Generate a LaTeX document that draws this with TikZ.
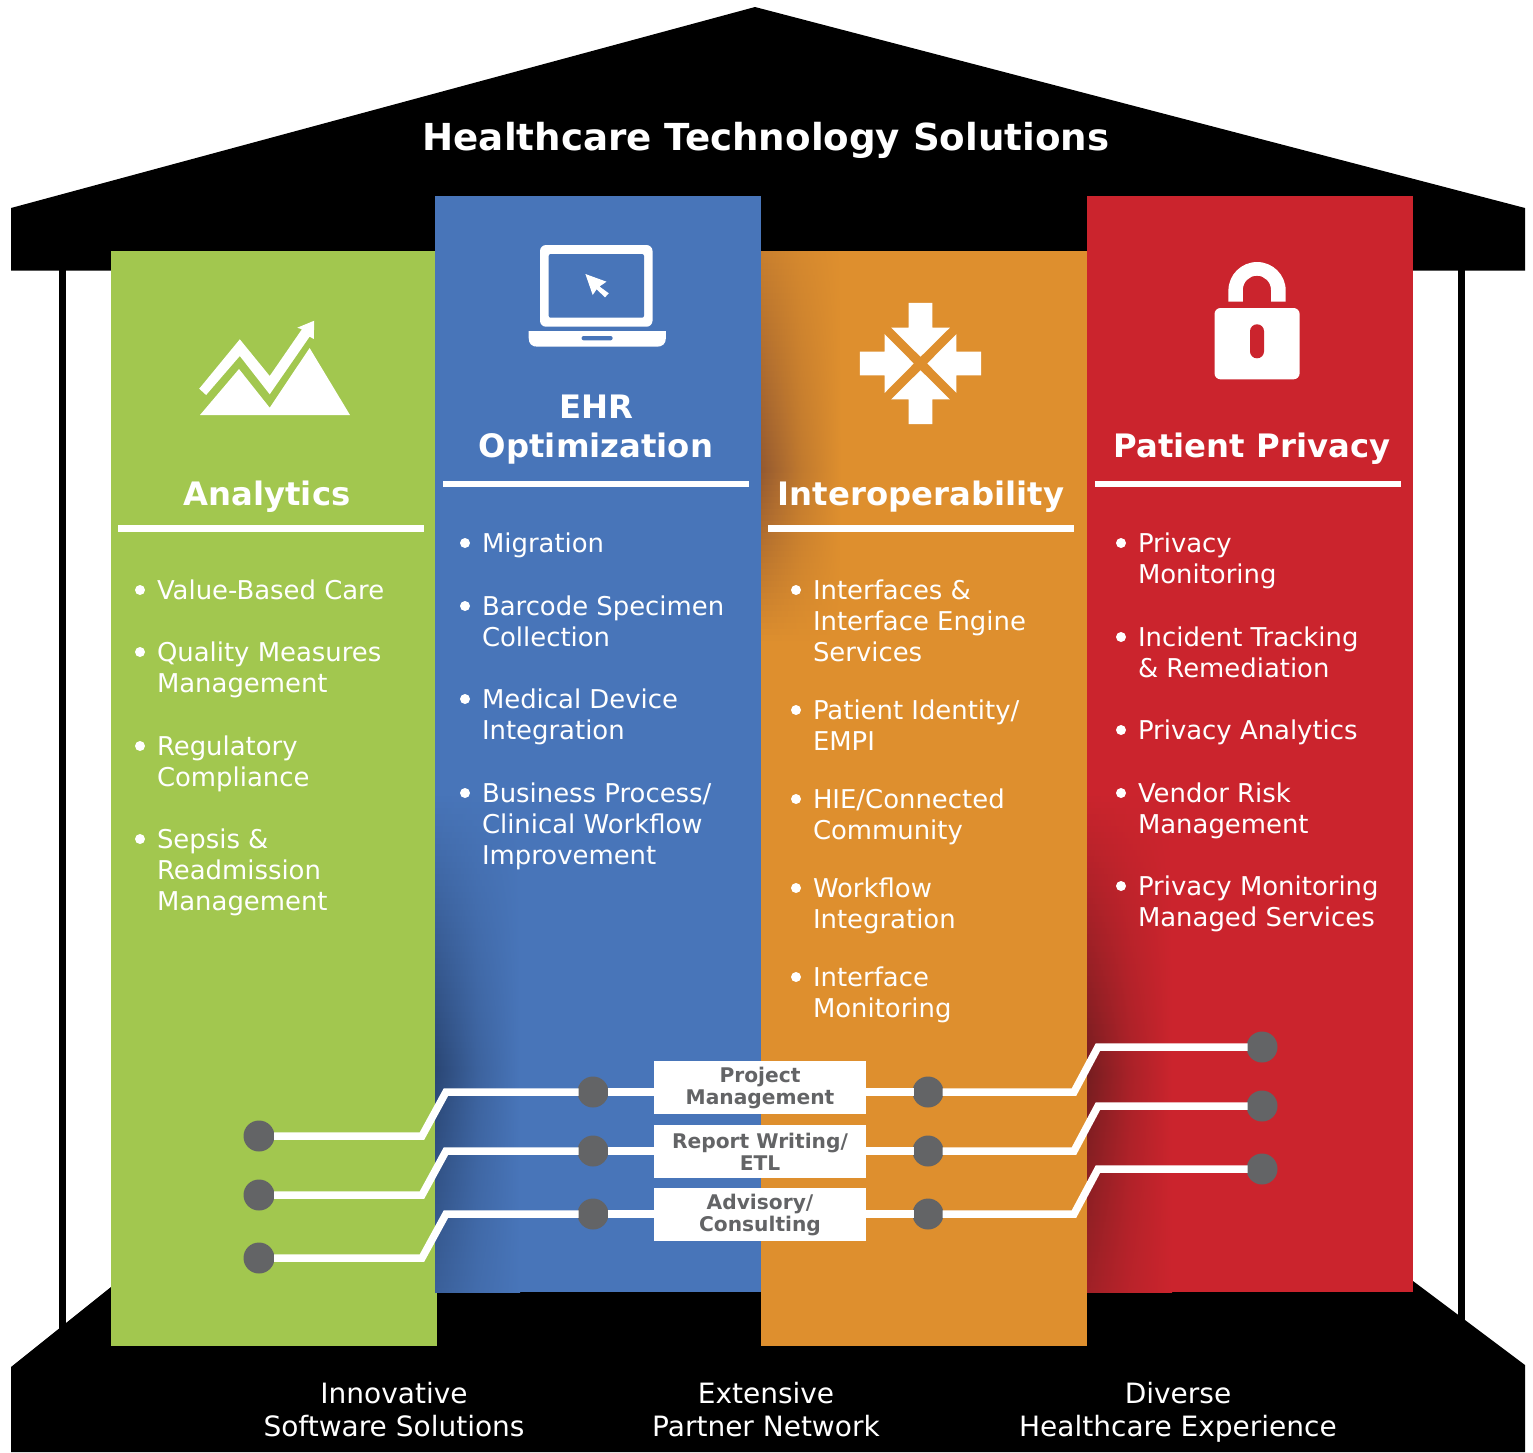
\documentclass[tikz,border=0pt]{standalone}
\usepackage{fontspec}
\setmainfont{DejaVu Sans}
\definecolor{cgreen}{HTML}{A2C74F}
\definecolor{cblue}{HTML}{4875B9}
\definecolor{corange}{HTML}{DE8F2E}
\definecolor{cred}{HTML}{CB242D}
\definecolor{cgray}{HTML}{636466}
\definecolor{dblue}{HTML}{2A4674}
\definecolor{dorange}{HTML}{94592F}
\definecolor{dred}{HTML}{751D20}
\tikzset{
  itemtext/.style={anchor=base west,inner sep=0pt,outer sep=0pt,text=white,align=left,font=\fontsize{25.9}{31.3}\selectfont},
  bullet/.style={circle,fill=white,inner sep=0pt,minimum size=10pt},
  coltitle/.style={anchor=base,inner sep=0pt,text=white,align=center,font=\fontsize{32.3}{39}\selectfont\bfseries},
  basetext/.style={anchor=base,inner sep=0pt,text=white,align=center,font=\fontsize{28}{33}\selectfont},
  dot/.style={circle,fill=cgray,inner sep=0pt,minimum size=31pt,outer sep=-1pt},
  wire/.style={draw=white,line width=7.5pt,miter limit=10},
  tagbox/.style={fill=white,text=cgray,inner sep=0pt,outer sep=-1pt,minimum width=212pt,minimum height=53pt,align=center,font=\fontsize{20.2}{22}\selectfont\bfseries},
}
\newcommand{\itm}[5]{%
  \node[bullet] (#1b) at (#2-17,#3-10) {};
  \node[itemtext] (#1) at (#2,#3-1+#4*31.3) {#5};
}
% dark colour, base colour, x, width, first y, strength there, peak y, last y, strength there
\newcommand{\shadecol}[9]{%
  \begin{scope}
  \clip (#3,#5) rectangle (#3+#4,#8);
  \pgfmathtruncatemacro\nstrip{(#8-#5)/6}
  \foreach \k in {0,...,\nstrip}{
    \pgfmathsetmacro\yy{#5+6*\k}
    \pgfmathsetmacro\pstr{\yy<#7 ? #6+(\yy-#5)/(#7-#5)*(100-#6) : 100-(\yy-#7)/(#8-#7)*(100-#9)}
    \pgfmathsetmacro\qstr{0.4*\pstr}
    \pgfmathsetmacro\ybot{\yy+7}
    \fill[left color=#1!\pstr!#2,right color=#2,middle color=#1!\qstr!#2] (#3,\yy) rectangle (#3+#4,\ybot);
  }
  \end{scope}
}
\begin{document}
\begin{tikzpicture}[x=1pt,y=-1pt]
\useasboundingbox (0,0) rectangle (1533,1452);
\fill[white] (0,0) rectangle (1533,1452);
% house
\fill[black] (59,260) rectangle (66,1340);
\fill[black] (1458,260) rectangle (1465,1340);
\fill[black] (755,7) -- (1525,208) -- (1525,270.5) -- (11,270.5) -- (11,208) -- cycle;
\fill[black] (11,1367) -- (111,1287) -- (1413,1281) -- (1525,1365) -- (1525,1452) -- (11,1452) -- cycle;
% columns
\fill[cgreen] (111,251) rectangle (437,1346);
\fill[cblue] (435,196) rectangle (761,1292);
\fill[corange] (761,251) rectangle (1087,1346);
\fill[cred] (1087,196) rectangle (1413,1292);
% shadows
\shadecol{dblue}{cblue}{435}{85}{790}{0}{1067}{1292}{45}
\shadecol{dorange}{corange}{761}{80}{251}{30}{467}{640}{0}
\shadecol{dred}{cred}{1087}{85}{790}{0}{1070}{1292}{50}
% rules
\fill[white] (118,525) rectangle (424,531.5);
\fill[white] (443,480.5) rectangle (749,487);
\fill[white] (768,525) rectangle (1074,531.5);
\fill[white] (1095,480.5) rectangle (1401,487);
% chart icon
\fill[white] (200,415) -- (239,369) -- (269.7,407.7) -- (309.6,348) -- (350,415) -- cycle;
\fill[white] (199.2,388.7) -- (239.8,339.3) -- (269.7,376) -- (301.9,329.3) -- (297.3,327.7) -- (314.2,320.7) -- (313.8,339) -- (309.6,336.7) -- (269.7,394.3) -- (239.8,356) -- (206.1,395) -- cycle;
% laptop icon
\fill[white,rounded corners=6pt] (540,245) rectangle (652.5,326.7);
\fill[cblue,rounded corners=2pt] (548.7,254) rectangle (644,317.7);
\fill[white] (528.7,331) -- (665.9,331) -- (665.9,338) .. controls (665.9,344) and (662,346.7) .. (657,346.7) -- (537.5,346.7) .. controls (532,346.7) and (528.7,344) .. (528.7,338) -- cycle;
\fill[cblue,rounded corners=2pt] (581.6,336) rectangle (612.6,340.3);
\fill[white] (585.4,274) -- (606.5,281.7) -- (599.5,286.5) -- (608.8,293.3) -- (605,297.3) -- (596.6,289.3) -- (592.7,295) -- cycle;
% arrows icon
\foreach \a in {0,90,180,270}{
  \fill[white,shift={(920.5,363.5)},rotate=\a] (0,-6.8) -- (29.3,-35.8) -- (11.8,-35.8) -- (11.8,-60.6) -- (-11.8,-60.6) -- (-11.8,-35.8) -- (-29.3,-35.8) -- cycle;
}
% lock icon
\fill[white,rounded corners=6pt] (1214.5,308) rectangle (1299.6,379.3);
\fill[cred,rounded corners=6.9pt] (1250,324.3) rectangle (1264,358.3);
\fill[white] (1228.4,301.7) -- (1228.4,290.6) arc[start angle=180,end angle=360,x radius=28.65,y radius=28.6] -- (1285.7,301.7) -- (1271,301.7) -- (1271,290) arc[start angle=0,end angle=-180,x radius=14.1,y radius=14.3] -- (1242.8,301.7) -- cycle;
% title
\node[inner sep=0pt,text=white,font=\fontsize{37.2}{44}\selectfont\bfseries] (title) at (766,140) {Healthcare Technology Solutions};
\node[coltitle] (tA) at (267,505) {Analytics};
\node[coltitle] (tE) at (596,418) {EHR};
\node[coltitle] (tO) at (596,457) {Optimization};
\node[coltitle] (tI) at (921,505) {Interoperability};
\node[coltitle] (tP) at (1252,457) {Patient Privacy};
% items
\itm{g1}{157}{600}{0}{Value-Based Care}
\itm{g2}{157}{662}{1}{Quality Measures\\Management}
\itm{g3}{157}{756}{1}{Regulatory\\Compliance}
\itm{g4}{157}{849}{2}{Sepsis \&\\Readmission\\Management}
\itm{b1}{482}{553}{0}{Migration}
\itm{b2}{482}{616}{1}{Barcode Specimen\\Collection}
\itm{b3}{482}{709}{1}{Medical Device\\Integration}
\itm{b4}{482}{803}{2}{Business Process/\\Clinical Workflow\\Improvement}
\itm{o1}{813}{600}{2}{Interfaces \&\\Interface Engine\\Services}
\itm{o2}{813}{720}{1}{Patient Identity/\\EMPI}
\itm{o3}{813}{809}{1}{HIE/Connected\\Community}
\itm{o4}{813}{898}{1}{Workflow\\Integration}
\itm{o5}{813}{987}{1}{Interface\\Monitoring}
\itm{r1}{1138}{553}{1}{Privacy\\Monitoring}
\itm{r2}{1138}{647}{1}{Incident Tracking\\\& Remediation}
\itm{r3}{1138}{740}{0}{Privacy Analytics}
\itm{r4}{1138}{803}{1}{Vendor Risk\\Management}
\itm{r5}{1138}{896}{1}{Privacy Monitoring\\Managed Services}
% wires
\node[dot] (a1) at (259,1136) {};
\node[dot] (a2) at (259,1195) {};
\node[dot] (a3) at (259,1258) {};
\node[dot] (c1) at (593,1092) {};
\node[dot] (c2) at (593,1151) {};
\node[dot] (c3) at (593,1214) {};
\node[dot] (d1) at (928,1092) {};
\node[dot] (d2) at (928,1151) {};
\node[dot] (d3) at (928,1214) {};
\node[dot] (e1) at (1262,1047) {};
\node[dot] (e2) at (1262,1106) {};
\node[dot] (e3) at (1262,1169) {};
\node[tagbox] (p1) at (760,1087.5) {Project\\Management};
\node[tagbox] (p2) at (760,1151.5) {Report Writing/\\ETL};
\node[tagbox] (p3) at (760,1214.5) {Advisory/\\Consulting};
\foreach \i in {1,2,3}{
  \draw[wire] (a\i.center) ++(15,0) -- ++(148,0) -- ++(24,-44) -- (c\i);
  \draw[wire] (c\i) -- (c\i -| p\i.west);
  \draw[wire] (d\i -| p\i.east) -- (d\i);
  \draw[wire] (d\i) -- ++(146,0) -- ++(24,-45) -- (e\i);
}
% base text
\node[basetext] (s1) at (394,1436) {Innovative\\Software Solutions};
\node[basetext] (s2) at (766,1436) {Extensive\\Partner Network};
\node[basetext] (s3) at (1178,1436) {Diverse\\Healthcare Experience};
\end{tikzpicture}
\end{document}
